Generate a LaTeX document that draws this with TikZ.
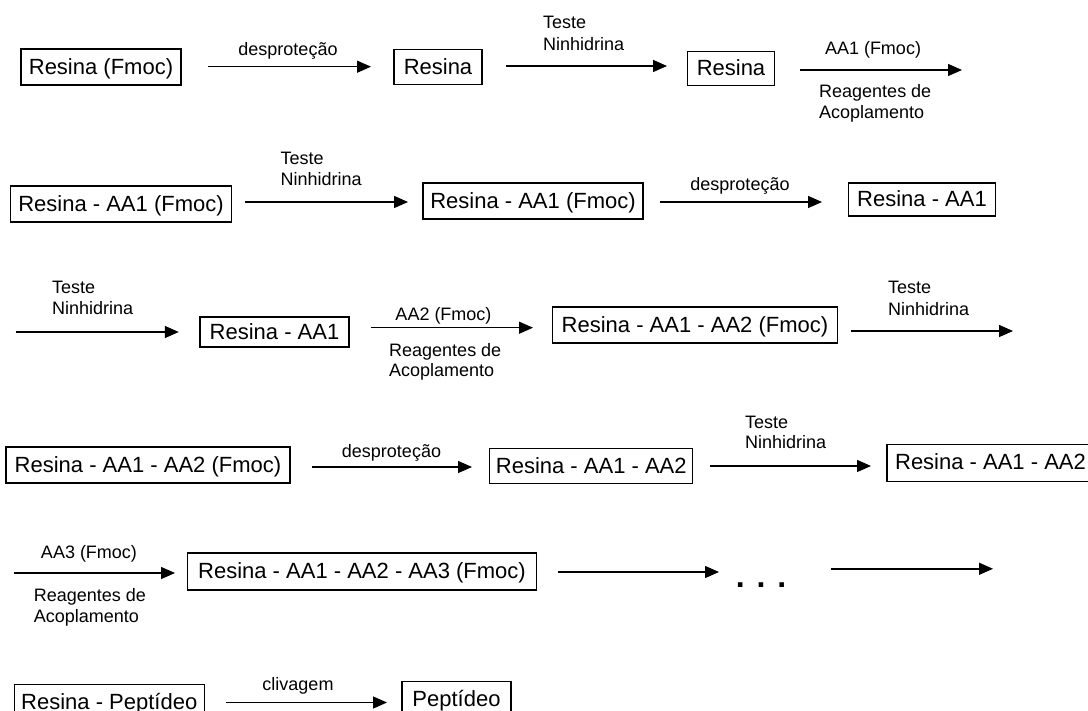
\documentclass[tikz,border=0pt]{standalone}
\usepackage{fontspec}
\setmainfont{Liberation Sans}
\usetikzlibrary{arrows.meta}
\begin{document}
\begin{tikzpicture}[x=1pt,y=-1pt,
  box/.style={draw, line width=1.3pt, inner sep=0pt, font=\fontsize{22}{24}\selectfont, text height=15.8pt, text depth=1.5pt},
  lbl/.style={inner sep=0pt, font=\fontsize{18}{20}\selectfont},
  arr/.style={line width=1.4pt, -{Triangle[length=14pt,width=12pt]}}]
\useasboundingbox (0,0) rectangle (1088,711);
\fill[white] (0,0) rectangle (1088,711);

% ---------- Row 1
\node[box, minimum width=160pt, minimum height=36pt] (b1) at (101,67) {Resina (Fmoc)};
\node[box, minimum width=88pt, minimum height=35pt] (b2) at (438,67) {Resina};
\node[box, minimum width=87pt, minimum height=34pt] (b3) at (731,68.5) {Resina};
\coordinate (s1) at (208,66.7); \coordinate (e1) at (371,66.7);
\coordinate (s2) at (506,66); \coordinate (e2) at (667,66);
\coordinate (s3) at (800,70); \coordinate (e3) at (962,70);
\draw[arr] (s1) -- (e1);
\draw[arr] (s2) -- (e2);
\draw[arr] (s3) -- (e3);
\node[lbl, anchor=base] (l1) at (288,56) {desproteção};
\node[lbl, anchor=base west] (l2a) at (543,29) {Teste};
\node[lbl, anchor=base west] (l2b) at (543,51) {Ninhidrina};
\node[lbl, anchor=base] (l3a) at (873,55) {AA1 (Fmoc)};
\node[lbl, anchor=base west] (l3b) at (819,98) {Reagentes de};
\node[lbl, anchor=base west] (l3c) at (819,119) {Acoplamento};

% ---------- Row 2
\node[box, minimum width=221pt, minimum height=36pt] (b4) at (121,204) {Resina - AA1 (Fmoc)};
\node[box, minimum width=220pt, minimum height=36pt] (b5) at (533,201) {Resina - AA1 (Fmoc)};
\node[box, minimum width=147pt, minimum height=33pt] (b6) at (922,199.5) {Resina - AA1};
\coordinate (s4) at (245,202); \coordinate (e4) at (408,202);
\coordinate (s5) at (660,202); \coordinate (e5) at (822,202);
\draw[arr] (s4) -- (e4);
\draw[arr] (s5) -- (e5);
\node[lbl, anchor=base west] (l4a) at (280.5,165) {Teste};
\node[lbl, anchor=base west] (l4b) at (280.5,186) {Ninhidrina};
\node[lbl, anchor=base] (l5) at (740,191) {desproteção};

% ---------- Row 3
\coordinate (s6) at (15.6,332); \coordinate (e6) at (178.8,332);
\draw[arr] (s6) -- (e6);
\node[lbl, anchor=base west] (l6a) at (52,294) {Teste};
\node[lbl, anchor=base west] (l6b) at (52,314.6) {Ninhidrina};
\node[box, minimum width=149pt, minimum height=30pt] (b7) at (274.5,332) {Resina - AA1};
\coordinate (s7) at (371,327.7); \coordinate (e7) at (533,327.7);
\draw[arr] (s7) -- (e7);
\node[lbl, anchor=base] (l7a) at (443.5,321) {AA2 (Fmoc)};
\node[lbl, anchor=base west] (l7b) at (389,356.5) {Reagentes de};
\node[lbl, anchor=base west] (l7c) at (389,377) {Acoplamento};
\node[box, minimum width=285pt, minimum height=36pt] (b8) at (695,325) {Resina - AA1 - AA2 (Fmoc)};
\coordinate (s8) at (851,331); \coordinate (e8) at (1013,331);
\draw[arr] (s8) -- (e8);
\node[lbl, anchor=base west] (l8a) at (888,294) {Teste};
\node[lbl, anchor=base west] (l8b) at (888,316) {Ninhidrina};

% ---------- Row 4
\node[box, minimum width=284pt, minimum height=36pt] (b9) at (148,465) {Resina - AA1 - AA2 (Fmoc)};
\coordinate (s9) at (311.5,467); \coordinate (e9) at (472,467);
\draw[arr] (s9) -- (e9);
\node[lbl, anchor=base] (l9) at (391.5,457) {desproteção};
\node[box, minimum width=203pt, minimum height=35pt] (b10) at (591.3,466) {Resina - AA1 - AA2};
\coordinate (s10) at (710,466); \coordinate (e10) at (871,466);
\draw[arr] (s10) -- (e10);
\node[lbl, anchor=base west] (l10a) at (745,428.6) {Teste};
\node[lbl, anchor=base west] (l10b) at (745,449) {Ninhidrina};
\node[box, minimum width=207pt, minimum height=37pt] (b11) at (990.5,462.8) {Resina - AA1 - AA2};

% ---------- Row 5
\node[lbl, anchor=base] (l11a) at (89,558) {AA3 (Fmoc)};
\coordinate (s11) at (14,573); \coordinate (e11) at (175,573);
\draw[arr] (s11) -- (e11);
\node[lbl, anchor=base west] (l11b) at (33.7,601) {Reagentes de};
\node[lbl, anchor=base west] (l11c) at (33.7,622) {Acoplamento};
\node[box, minimum width=349pt, minimum height=37pt] (b12) at (362,571.5) {Resina - AA1 - AA2 - AA3 (Fmoc)};
\coordinate (s12) at (558,572); \coordinate (e12) at (719,572);
\draw[arr] (s12) -- (e12);
\node[inner sep=0pt, anchor=base, font=\fontsize{32}{34}\selectfont\bfseries] (dots) at (761,587) {. . .};
\coordinate (s13) at (830.5,568.8); \coordinate (e13) at (993,568.8);
\draw[arr] (s13) -- (e13);

% ---------- Row 6
\node[box, minimum width=190pt, minimum height=36pt] (b13) at (109.3,702.4) {Resina - Peptídeo};
\coordinate (s14) at (225.7,702.5); \coordinate (e14) at (387,702.5);
\draw[arr] (s14) -- (e14);
\node[lbl, anchor=base] (l14) at (298,690) {clivagem};
\node[box, minimum width=109pt, minimum height=36pt] (b14) at (456.5,699.7) {Peptídeo};
\end{tikzpicture}
\end{document}
